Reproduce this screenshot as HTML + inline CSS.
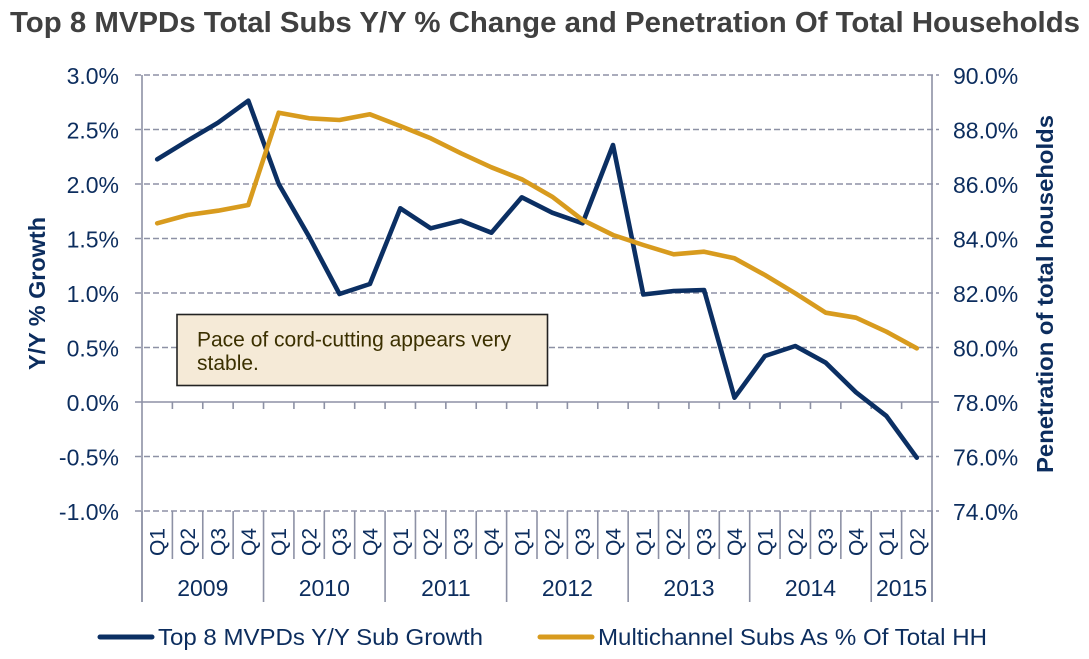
<!DOCTYPE html>
<html><head><meta charset="utf-8"><style>
html,body{margin:0;padding:0;background:#fff;}
svg{display:block;}
text{font-family:"Liberation Sans",Arial,sans-serif;}
</style></head><body>
<svg width="1089" height="659" viewBox="0 0 1089 659" xmlns="http://www.w3.org/2000/svg">
<rect width="1089" height="659" fill="#fff"/>
<text x="10" y="32" font-size="29" font-weight="bold" fill="#404040" textLength="1070" lengthAdjust="spacingAndGlyphs">Top 8 MVPDs Total Subs Y/Y % Change and Penetration Of Total Households</text>

<g stroke="#8d91a5" stroke-width="1.6" fill="none">
<line x1="135" y1="75" x2="939" y2="75" stroke-dasharray="6,3"/>
<line x1="135" y1="129.5" x2="939" y2="129.5" stroke-dasharray="6,3"/>
<line x1="135" y1="184" x2="939" y2="184" stroke-dasharray="6,3"/>
<line x1="135" y1="238.5" x2="939" y2="238.5" stroke-dasharray="6,3"/>
<line x1="135" y1="293" x2="939" y2="293" stroke-dasharray="6,3"/>
<line x1="135" y1="347.5" x2="939" y2="347.5" stroke-dasharray="6,3"/>
<line x1="135" y1="456.5" x2="939" y2="456.5" stroke-dasharray="6,3"/>
<line x1="135" y1="511" x2="939" y2="511" stroke-dasharray="6,3"/>
<line x1="135" y1="402" x2="939" y2="402"/>
<line x1="142" y1="75" x2="142" y2="602"/>
<line x1="932" y1="75" x2="932" y2="602"/>
</g>
<g id="ticks" stroke="#8d91a5" stroke-width="1.6"></g>

<rect x="177" y="314.5" width="370.5" height="71" fill="#f5ead7" stroke="#222" stroke-width="1.6"/>
<text x="197" y="346.5" font-size="21" fill="#3b3000">Pace of cord-cutting appears very</text>
<text x="197" y="370" font-size="21" fill="#3b3000">stable.</text>

<polyline id="blue" fill="none" stroke="#0b2f63" stroke-width="4.6" stroke-linejoin="round" stroke-linecap="round"/>
<polyline id="orange" fill="none" stroke="#d89b1e" stroke-width="4.6" stroke-linejoin="round" stroke-linecap="round"/>

<g font-size="23" fill="#0c2d5e" text-anchor="end">
<text x="119" y="84">3.0%</text>
<text x="119" y="138.5">2.5%</text>
<text x="119" y="193">2.0%</text>
<text x="119" y="247.5">1.5%</text>
<text x="119" y="302">1.0%</text>
<text x="119" y="356.5">0.5%</text>
<text x="119" y="411">0.0%</text>
<text x="119" y="465.5">-0.5%</text>
<text x="119" y="520">-1.0%</text>
</g>
<g font-size="23" fill="#0c2d5e">
<text x="953" y="84">90.0%</text>
<text x="953" y="138.5">88.0%</text>
<text x="953" y="193">86.0%</text>
<text x="953" y="247.5">84.0%</text>
<text x="953" y="302">82.0%</text>
<text x="953" y="356.5">80.0%</text>
<text x="953" y="411">78.0%</text>
<text x="953" y="465.5">76.0%</text>
<text x="953" y="520">74.0%</text>
</g>
<text transform="translate(45,293.5) rotate(-90)" text-anchor="middle" font-size="23" font-weight="bold" fill="#0c2d5e" textLength="153" lengthAdjust="spacingAndGlyphs">Y/Y % Growth</text>
<text transform="translate(1053,294) rotate(-90)" text-anchor="middle" font-size="23" font-weight="bold" fill="#0c2d5e" textLength="358" lengthAdjust="spacingAndGlyphs">Penetration of total households</text>

<g id="qlabels" font-size="21" fill="#0c2d5e" text-anchor="middle"></g>
<g font-size="23" fill="#0c2d5e" text-anchor="middle">
<text x="202.8" y="596">2009</text>
<text x="324.3" y="596">2010</text>
<text x="445.9" y="596">2011</text>
<text x="567.4" y="596">2012</text>
<text x="689" y="596">2013</text>
<text x="810.5" y="596">2014</text>
<text x="901.6" y="596">2015</text>
</g>

<line x1="100" y1="637" x2="152" y2="637" stroke="#0b2f63" stroke-width="5" stroke-linecap="round"/>
<text x="158" y="645" font-size="23.5" fill="#0c2d5e" textLength="325" lengthAdjust="spacingAndGlyphs">Top 8 MVPDs Y/Y Sub Growth</text>
<line x1="540" y1="637" x2="592" y2="637" stroke="#d89b1e" stroke-width="5" stroke-linecap="round"/>
<text x="598" y="645" font-size="23.5" fill="#0c2d5e" textLength="389" lengthAdjust="spacingAndGlyphs">Multichannel Subs As % Of Total HH</text>
</svg>
<script>
(function(){
var ns="http://www.w3.org/2000/svg";
var w=790/26;
function X(i){return 142+w*(i+0.5);}
var b=[159.3,140.7,122.7,100.7,184,236.7,294,284,208.3,228.3,220.7,232.7,197.3,212.7,223.3,145,294.5,291,290,397.7,356,346,362.7,392.3,416,457.7];
var o=[223.3,215,210.7,205,112.7,118.3,120,114.3,126,138.3,153.3,167.3,179.3,196.7,220,235,245,254.3,251.7,258.3,275,293.3,312.7,317.7,331.7,348.3];
document.getElementById("blue").setAttribute("points",b.map(function(y,i){return X(i).toFixed(1)+","+y;}).join(" "));
document.getElementById("orange").setAttribute("points",o.map(function(y,i){return X(i).toFixed(1)+","+y;}).join(" "));
var t=document.getElementById("ticks");
for(var k=0;k<=26;k++){
 var x=142+w*k;
 var yb=(k%4==0||k==26)?602:559;
 if(k>0&&k<26){
  var l=document.createElementNS(ns,"line");
  l.setAttribute("x1",x);l.setAttribute("x2",x);l.setAttribute("y1",402);l.setAttribute("y2",409);t.appendChild(l);
 }
 var l2=document.createElementNS(ns,"line");
 l2.setAttribute("x1",x);l2.setAttribute("x2",x);l2.setAttribute("y1",511);l2.setAttribute("y2",yb);t.appendChild(l2);
}
var q=document.getElementById("qlabels");
for(var i=0;i<26;i++){
 var tx=document.createElementNS(ns,"text");
 tx.setAttribute("transform","translate("+(X(i)+7.5).toFixed(1)+",542) rotate(-90)");
 tx.textContent="Q"+((i%4)+1);
 q.appendChild(tx);
}
})();
</script>
</body></html>
